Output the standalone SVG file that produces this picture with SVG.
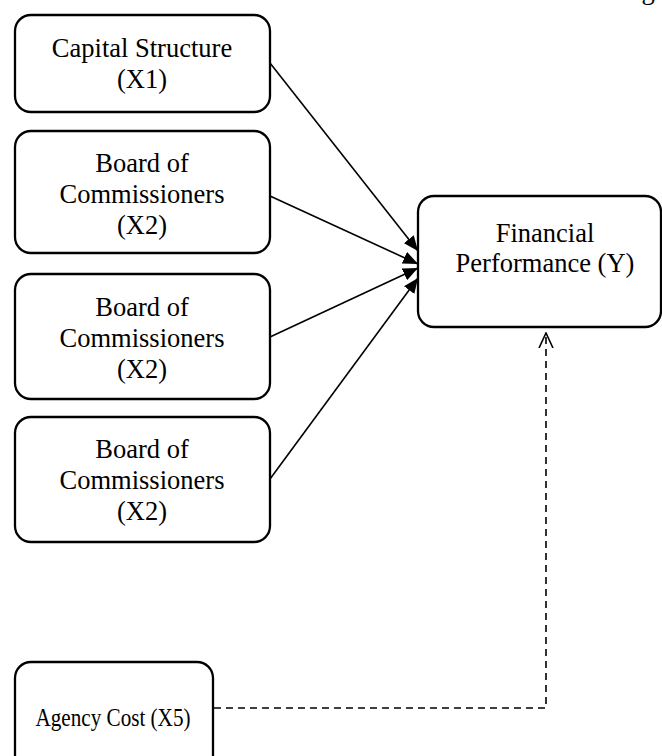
<svg xmlns="http://www.w3.org/2000/svg" width="662" height="756" viewBox="0 0 662 756">
  <style>
    .box { fill: #fff; stroke: #000; stroke-width: 2.3; }
    .lbl { font-family: "Liberation Serif", "Times New Roman", serif; font-size: 26.5px; fill: #000; text-anchor: middle; }
    .link { fill: none; stroke: #000; stroke-width: 1.6; }
    .dash { fill: none; stroke: #000; stroke-width: 1.6; stroke-dasharray: 7 5; }
  </style>
  <defs>
    <marker id="solidHead" viewBox="0 0 14 12" refX="14" refY="6" markerWidth="15" markerHeight="13" markerUnits="userSpaceOnUse" orient="auto">
      <path d="M0,0 L14,6 L0,12 Z" fill="#000"/>
    </marker>
    <marker id="openHead" viewBox="0 0 16 16" refX="15" refY="8" markerWidth="16" markerHeight="16" markerUnits="userSpaceOnUse" orient="auto">
      <path d="M0,1 L15,8 L0,15" fill="none" stroke="#000" stroke-width="1.6"/>
    </marker>
  </defs>

  <rect width="662" height="756" fill="#fff"/>

  <!-- trailing caption fragment at the top edge -->
  <text class="lbl" x="648" y="-1">g</text>

  <g id="connectors">
    <line class="link" x1="270" y1="63" x2="418" y2="251" marker-end="url(#solidHead)"/>
    <line class="link" x1="270" y1="196" x2="418" y2="264" marker-end="url(#solidHead)"/>
    <line class="link" x1="270" y1="337" x2="418" y2="268" marker-end="url(#solidHead)"/>
    <line class="link" x1="270" y1="479" x2="418" y2="278" marker-end="url(#solidHead)"/>
    <path class="dash" d="M214,708 H546 V333" marker-end="url(#openHead)"/>
  </g>

  <g id="x1">
    <rect class="box" x="15" y="15" width="255" height="97" rx="16"/>
    <text class="lbl" x="142" y="57">Capital Structure</text>
    <text class="lbl" x="142" y="88">(X1)</text>
  </g>

  <g id="x2a">
    <rect class="box" x="15" y="131" width="255" height="122" rx="16"/>
    <text class="lbl" x="142" y="172">Board of</text>
    <text class="lbl" x="142" y="203">Commissioners</text>
    <text class="lbl" x="142" y="234">(X2)</text>
  </g>

  <g id="x2b">
    <rect class="box" x="15" y="274" width="255" height="125" rx="16"/>
    <text class="lbl" x="142" y="316">Board of</text>
    <text class="lbl" x="142" y="347">Commissioners</text>
    <text class="lbl" x="142" y="378">(X2)</text>
  </g>

  <g id="x2c">
    <rect class="box" x="15" y="417" width="255" height="125" rx="16"/>
    <text class="lbl" x="142" y="458">Board of</text>
    <text class="lbl" x="142" y="489">Commissioners</text>
    <text class="lbl" x="142" y="520">(X2)</text>
  </g>

  <g id="y">
    <rect class="box" x="418" y="196" width="243" height="131" rx="16"/>
    <text class="lbl" x="545" y="242">Financial</text>
    <text class="lbl" x="545" y="272">Performance (Y)</text>
  </g>

  <g id="x5">
    <rect class="box" x="15" y="662" width="198" height="110" rx="16"/>
    <text class="lbl" x="113" y="726" style="font-size:24.5px" textLength="155" lengthAdjust="spacingAndGlyphs">Agency Cost (X5)</text>
  </g>
</svg>
